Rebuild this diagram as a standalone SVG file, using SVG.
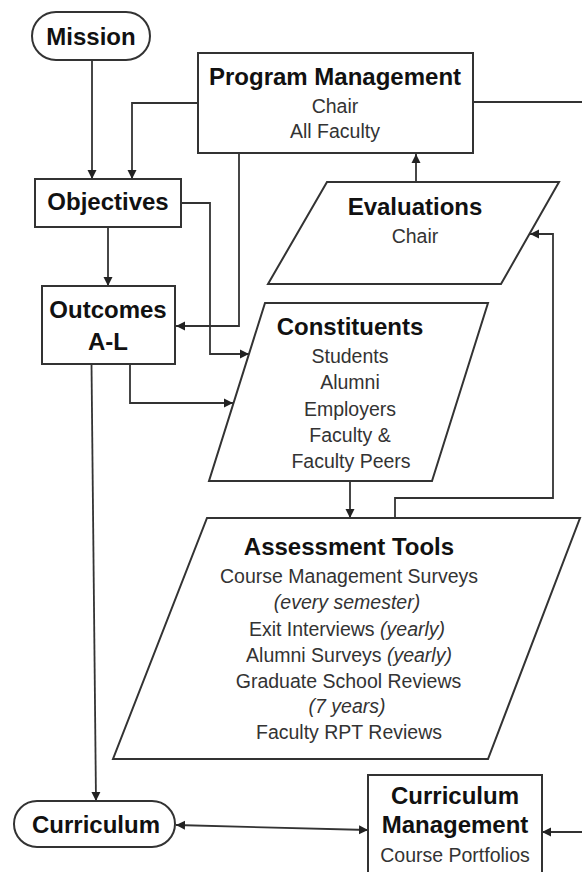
<svg xmlns="http://www.w3.org/2000/svg" width="582" height="872" viewBox="0 0 582 872">
  <defs>
    <marker id="arrow" viewBox="0 0 10 10" refX="10" refY="5" markerWidth="9" markerHeight="10" markerUnits="userSpaceOnUse" orient="auto-start-reverse">
      <path d="M0,0 L10,5 L0,10 z" fill="#222"/>
    </marker>
    <style>
      .shape { fill: #fff; stroke: #333; stroke-width: 2; }
      .link { fill: none; stroke: #333; stroke-width: 1.8; }
      .arr { marker-end: url(#arrow); }
      .title { font-family: "Liberation Sans", Arial, sans-serif; font-weight: bold; font-size: 24px; fill: #111; text-anchor: middle; }
      .sub { font-family: "Liberation Sans", Arial, sans-serif; font-size: 19.5px; fill: #333; text-anchor: middle; }
      .it { font-style: italic; }
    </style>
  </defs>

  <rect width="582" height="872" fill="#fff"/>

  <!-- connectors -->
  <g id="connectors">
    <path class="link arr" d="M92,60 L92,179"/>
    <path class="link arr" d="M198,103 L132,103 L132,179"/>
    <path class="link" d="M473,102 L582,102"/>
    <path class="link arr" d="M416,182 L416,154"/>
    <path class="link arr" d="M239,153 L239,326 L176,326"/>
    <path class="link arr" d="M108,227 L108,286"/>
    <path class="link arr" d="M181,203 L210,203 L210,354 L249,354"/>
    <path class="link arr" d="M130,364 L130,403 L233,403"/>
    <path class="link arr" d="M350,481 L350,518"/>
    <path class="link arr" d="M395,518 L395,498 L553,498 L553,234 L530,234"/>
    <path class="link arr" d="M91.5,364 L96,801"/>
    <path class="link arr" d="M176,825 L368,830" marker-start="url(#arrow)"/>
    <path class="link arr" d="M582,832 L542,832"/>
  </g>

  <!-- Mission -->
  <g id="mission">
    <rect class="shape" x="32" y="12" width="118" height="48" rx="24" ry="24"/>
    <text class="title" x="91" y="45">Mission</text>
  </g>

  <!-- Program Management -->
  <g id="program-management">
    <rect class="shape" x="198" y="53" width="275" height="100"/>
    <text class="title" x="335" y="85">Program Management</text>
    <text class="sub" x="335" y="113">Chair</text>
    <text class="sub" x="335" y="138">All Faculty</text>
  </g>

  <!-- Objectives -->
  <g id="objectives">
    <rect class="shape" x="35" y="179" width="146" height="48"/>
    <text class="title" x="108" y="210">Objectives</text>
  </g>

  <!-- Evaluations -->
  <g id="evaluations">
    <polygon class="shape" points="327,182 559,182 501,284 268,284"/>
    <text class="title" x="415" y="215">Evaluations</text>
    <text class="sub" x="415" y="243">Chair</text>
  </g>

  <!-- Outcomes -->
  <g id="outcomes">
    <rect class="shape" x="42" y="286" width="133" height="78"/>
    <text class="title" x="108" y="318">Outcomes</text>
    <text class="title" x="108" y="350">A-L</text>
  </g>

  <!-- Constituents -->
  <g id="constituents">
    <polygon class="shape" points="265,303 488,303 432,481 209,481"/>
    <text class="title" x="350" y="335">Constituents</text>
    <text class="sub" x="350" y="363">Students</text>
    <text class="sub" x="350" y="389">Alumni</text>
    <text class="sub" x="350" y="416">Employers</text>
    <text class="sub" x="350" y="442">Faculty &amp;</text>
    <text class="sub" x="351" y="468">Faculty Peers</text>
  </g>

  <!-- Assessment Tools -->
  <g id="assessment-tools">
    <polygon class="shape" points="207,518 580,518 488,759 113,759"/>
    <text class="title" x="349" y="555">Assessment Tools</text>
    <text class="sub" x="349" y="583">Course Management Surveys</text>
    <text class="sub it" x="347" y="609">(every semester)</text>
    <text class="sub" x="347" y="636">Exit Interviews <tspan class="it">(yearly)</tspan></text>
    <text class="sub" x="349" y="662">Alumni Surveys <tspan class="it">(yearly)</tspan></text>
    <text class="sub" x="348.5" y="688">Graduate School Reviews</text>
    <text class="sub it" x="347" y="713">(7 years)</text>
    <text class="sub" x="349" y="739">Faculty RPT Reviews</text>
  </g>

  <!-- Curriculum -->
  <g id="curriculum">
    <rect class="shape" x="14" y="801" width="161" height="46" rx="23" ry="23"/>
    <text class="title" x="96" y="833">Curriculum</text>
  </g>

  <!-- Curriculum Management -->
  <g id="curriculum-management">
    <rect class="shape" x="368" y="775" width="174" height="110"/>
    <text class="title" x="455" y="804">Curriculum</text>
    <text class="title" x="455" y="833">Management</text>
    <text class="sub" x="455" y="862">Course Portfolios</text>
  </g>
</svg>
